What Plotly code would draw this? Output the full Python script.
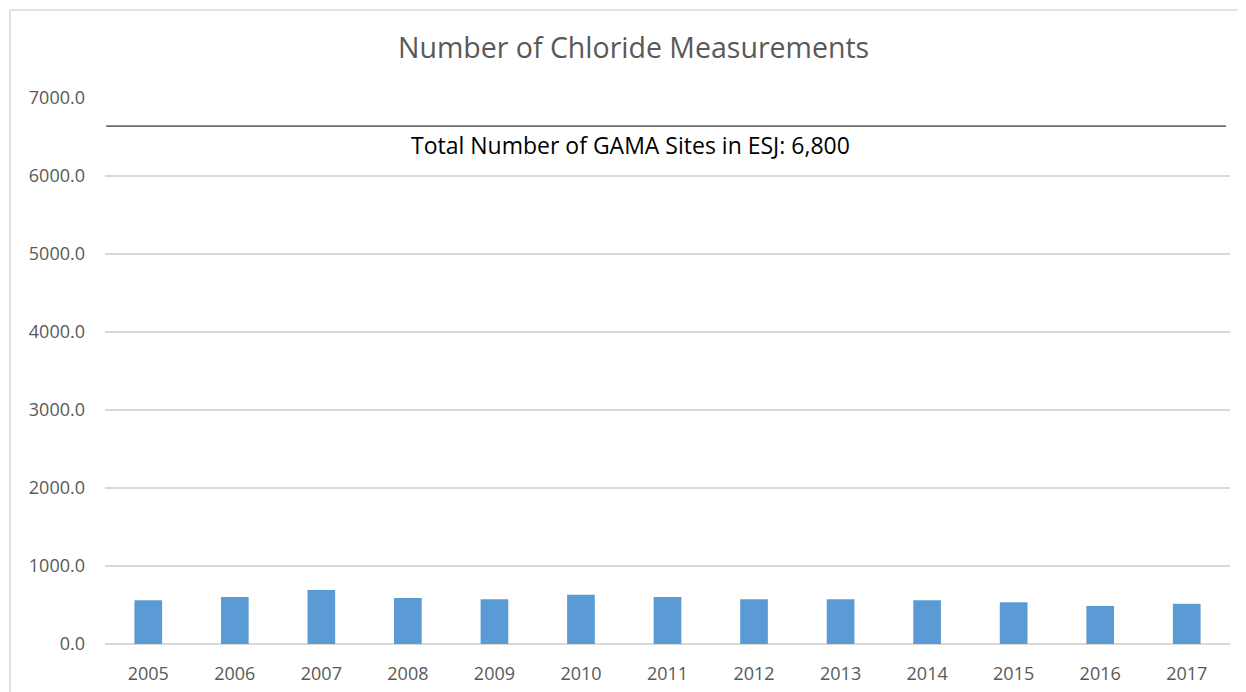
import plotly.graph_objects as go

# Values
years = ['2005', '2006', '2007', '2008', '2009', '2010', '2011',
         '2012', '2013', '2014', '2015', '2016', '2017']
measurements = [560, 603, 692, 590, 573, 632, 603, 573, 573, 560, 534, 487, 517]

total_sites_label = 'Total Number of GAMA Sites in ESJ: 6,800'
total_sites_line = 6640  # where the reference line is drawn
y_ticks = [0, 1000, 2000, 3000, 4000, 5000, 6000, 7000]

FONT = '"Open Sans", Lato, sans-serif'
GREY = '#595959'

fig = go.Figure()

fig.add_trace(go.Bar(
    x=years,
    y=measurements,
    marker=dict(color='#5b9bd5', line=dict(width=0)),
    showlegend=False,
))

# Horizontal reference line for the total number of sites
fig.add_shape(type='line', xref='paper', yref='y',
              x0=0.001, x1=0.9965, y0=total_sites_line, y1=total_sites_line,
              line=dict(color='#000000', width=1))

fig.add_annotation(text=total_sites_label, xref='paper', yref='y',
                   x=0.4667, y=total_sites_line, yanchor='top', yshift=-1,
                   showarrow=False, font=dict(family=FONT, size=23, color='#000000'))

# Chart-area border (Excel style)
fig.add_shape(type='rect', xref='paper', yref='paper',
              x0=-0.0844, x1=1.1, y0=-0.3, y1=1.161,
              line=dict(color='#d9d9d9', width=1.5), layer='below')

# the page body adds an 8px offset, so the figure is 8px smaller on each axis
fig.update_layout(
    width=1238, height=684,
    margin=dict(l=97, r=16, t=90, b=48),
    plot_bgcolor='white', paper_bgcolor='white',
    bargap=0.68,
    font=dict(family=FONT, size=18, color=GREY),
    title=dict(text='Number of Chloride Measurements', x=0.5053, xanchor='center',
               y=0.9415, yanchor='middle', yref='container',
               font=dict(family=FONT, size=28.5, color=GREY)),
)

fig.update_xaxes(showgrid=False, showline=False, ticks='', automargin=False,
                 ticklabelstandoff=17, tickfont=dict(size=18, color=GREY))
fig.update_yaxes(range=[0, 7000], tickvals=y_ticks, tickformat='.1f',
                 showgrid=True, gridcolor='#d9d9d9', gridwidth=1.5,
                 zeroline=True, zerolinecolor='#d9d9d9', zerolinewidth=1.5,
                 showline=False, ticks='', ticklabelstandoff=19, automargin=False,
                 tickfont=dict(size=18, color=GREY))

fig.write_html('out.html')
